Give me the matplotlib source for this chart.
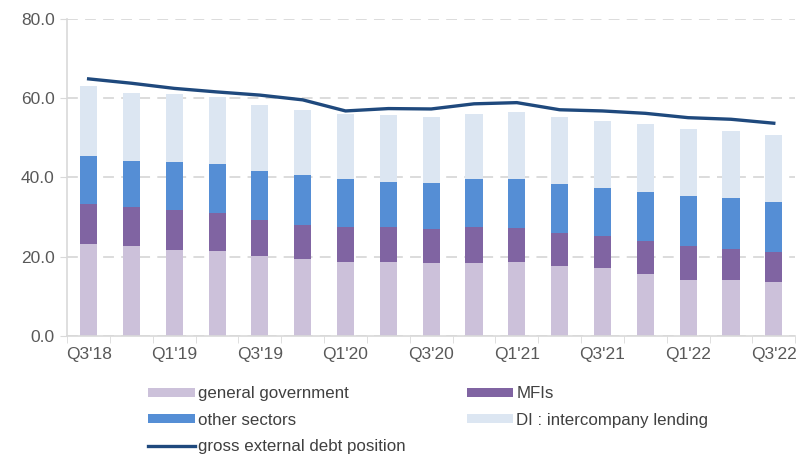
import numpy as np
import matplotlib.pyplot as plt

plt.rcParams['font.family'] = ['Liberation Sans', 'DejaVu Sans']

quarters = ["Q3'18", "Q4'18", "Q1'19", "Q2'19", "Q3'19", "Q4'19", "Q1'20", "Q2'20", "Q3'20",
            "Q4'20", "Q1'21", "Q2'21", "Q3'21", "Q4'21", "Q1'22", "Q2'22", "Q3'22"]
# cumulative tops
gov_top = [23.1, 22.6, 21.7, 21.5, 20.1, 19.3, 18.7, 18.7, 18.4, 18.4, 18.7, 17.6, 17.0, 15.7, 14.2, 14.0, 13.6]
mfi_top = [33.3, 32.5, 31.7, 30.9, 29.2, 28.0, 27.5, 27.5, 27.0, 27.5, 27.3, 25.9, 25.1, 24.0, 22.6, 22.0, 21.2]
oth_top = [45.3, 44.2, 43.9, 43.4, 41.7, 40.6, 39.7, 38.9, 38.6, 39.5, 39.7, 38.4, 37.3, 36.4, 35.4, 34.8, 33.7]
di_top = [63.1, 61.4, 61.1, 60.4, 58.3, 57.0, 56.1, 55.8, 55.3, 56.1, 56.6, 55.3, 54.2, 53.4, 52.3, 51.8, 50.6]
gross = [64.9, 63.8, 62.5, 61.6, 60.8, 59.6, 56.8, 57.4, 57.3, 58.6, 58.9, 57.1, 56.8, 56.2, 55.1, 54.7, 53.7]

gov = np.array(gov_top)
mfi = np.array(mfi_top) - gov
oth = np.array(oth_top) - np.array(mfi_top)
di = np.array(di_top) - np.array(oth_top)

x = np.arange(len(quarters))
w = 0.4

fig = plt.figure(figsize=(8, 4.55), dpi=100)
ax = fig.add_axes([0.084, 0.262, 0.91, 0.696])

b1 = ax.bar(x, gov, w, color='#ccc1da', label='general government', zorder=2)
b2 = ax.bar(x, mfi, w, bottom=gov, color='#8064a2', label='MFIs', zorder=2)
b3 = ax.bar(x, oth, w, bottom=gov + mfi, color='#558ed5', label='other sectors', zorder=2)
b4 = ax.bar(x, di, w, bottom=gov + mfi + oth, color='#dce6f2', label='DI : intercompany lending', zorder=2)
ln, = ax.plot(x, gross, color='#1f497d', lw=2.4, label='gross external debt position', zorder=3)

ax.set_xlim(-0.5, len(quarters) - 0.5)
ax.set_ylim(0, 80)
ax.set_yticks([0, 20, 40, 60, 80])
ax.set_yticklabels(['%.1f' % v for v in [0, 20, 40, 60, 80]])
ax.yaxis.grid(True, color='#d9d9d9', ls=(0, (6, 4)), lw=1.3, zorder=0)

ax.set_xticks(x[::2])
ax.set_xticklabels(quarters[::2])
ax.set_xticks(np.arange(-0.5, len(quarters), 1), minor=True)
ax.tick_params(axis='x', which='major', length=0, pad=8)
ax.tick_params(axis='x', which='minor', length=5, color='#d9d9d9')
ax.tick_params(axis='y', length=5, color='#d9d9d9', pad=4)
ax.tick_params(labelsize=12.5, labelcolor='#595959')

for s in ['top', 'right']:
    ax.spines[s].set_visible(False)
for s in ['left', 'bottom']:
    ax.spines[s].set_color('#d9d9d9')
    ax.spines[s].set_linewidth(1.2)

fig.legend([b1, b3, ln, b2, b4],
           ['general government', 'other sectors', 'gross external debt position', 'MFIs', 'DI : intercompany lending'],
           ncol=2, loc='upper left', bbox_to_anchor=(0.177, 0.166), frameon=False,
           fontsize=12.2, handlelength=2.75, handleheight=0.45, handletextpad=0.18,
           columnspacing=3.6, labelspacing=0.68, labelcolor='#404040', borderaxespad=0)

fig.savefig('out.png', dpi=100)
